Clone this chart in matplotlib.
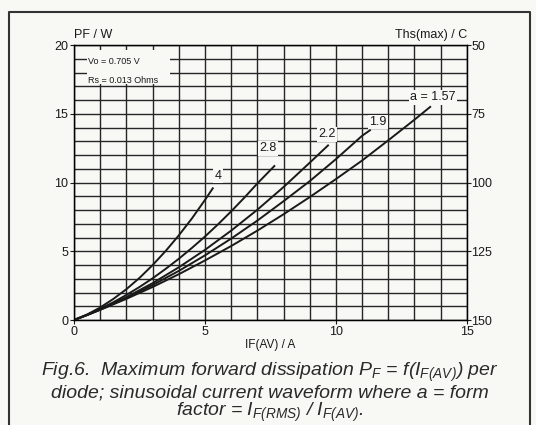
import matplotlib
matplotlib.use("Agg")
import matplotlib.pyplot as plt
from matplotlib.patches import Rectangle

plt.rcParams['font.family'] = ['Liberation Sans', 'DejaVu Sans']
plt.rcParams['mathtext.fontset'] = 'custom'
plt.rcParams['mathtext.rm'] = 'Liberation Sans:italic'
plt.rcParams['mathtext.it'] = 'Liberation Sans:italic'

# values, IF(AV) in A and PF in W
x_a4 = [0, 0.5, 1, 1.5, 2, 2.5, 3, 3.5, 4, 4.5, 5, 5.3]
y_a4 = [0, 0.40, 0.91, 1.53, 2.24, 3.06, 3.99, 5.02, 6.15, 7.38, 8.73, 9.58]
x_a28 = [0, 0.5, 1, 1.5, 2, 2.5, 3, 3.5, 4, 4.5, 5, 5.5, 6, 6.5, 7, 7.65]
y_a28 = [0, 0.38, 0.81, 1.29, 1.82, 2.40, 3.03, 3.72, 4.45, 5.24, 6.07, 6.96, 7.9, 8.89, 9.93, 11.2]
x_a22 = [0, 0.5, 1, 2, 3, 4, 5, 6, 7, 8, 9, 9.7]
y_a22 = [0, 0.37, 0.77, 1.66, 2.68, 3.83, 5.1, 6.5, 8.02, 9.67, 11.44, 12.7]
x_a19 = [0, 0.5, 1, 2, 3, 4, 5, 6, 7, 8, 9, 10, 11, 11.3]
y_a19 = [0, 0.36, 0.75, 1.6, 2.54, 3.57, 4.7, 5.92, 7.23, 8.64, 10.1, 11.7, 13.4, 13.8]
x_a157 = [0, 0.5, 1, 2, 3, 4, 5, 6, 7, 8, 9, 10, 11, 12, 13, 13.6]
y_a157 = [0, 0.36, 0.74, 1.54, 2.4, 3.33, 4.33, 5.38, 6.5, 7.69, 8.94, 10.25, 11.6, 13.07, 14.57, 15.5]

curve_labels = ["4", "2.8", "2.2", "1.9", "a = 1.57"]
label_x = [5.5, 7.4, 9.65, 11.6, 13.7]
label_y = [10.5, 12.5, 13.5, 14.4, 16.2]

ths_ticks = [50, 75, 100, 125, 150]

bg = '#f8f8f5'
ink = '#1a1a1a'
fig = plt.figure(figsize=(5.36, 4.25), dpi=100, facecolor=bg)
ax = fig.add_axes([0.138, 0.247, 0.733, 0.647])
ax.set_facecolor(bg)

for xs, ys in [(x_a4, y_a4), (x_a28, y_a28), (x_a22, y_a22), (x_a19, y_a19), (x_a157, y_a157)]:
    ax.plot(xs, ys, color=ink, lw=1.4, zorder=3, solid_joinstyle='round')

ax.set_xlim(0, 15)
ax.set_ylim(0, 20)
ax.set_xticks(range(0, 16), minor=True)
ax.set_yticks(range(0, 21), minor=True)
ax.set_xticks([0, 5, 10, 15])
ax.set_yticks([0, 5, 10, 15, 20])
ax.grid(True, which='both', color='#262626', lw=1.0)
ax.tick_params(which='minor', length=0)
ax.tick_params(which='major', length=3, labelsize=9, pad=1, colors=ink)
for s in ax.spines.values():
    s.set_linewidth(1.0)

for t, lx, ly in zip(curve_labels, label_x, label_y):
    ax.text(lx, ly, t, ha='center', va='center', fontsize=9, zorder=4, color=ink,
            bbox=dict(facecolor=bg, edgecolor='none', pad=1.0))

# white box holding the model parameters
ax.add_patch(Rectangle((0.5, 17.2), 3.15, 2.45, facecolor=bg, edgecolor='none', zorder=4))
ax.text(0.55, 18.8, "Vo = 0.705 V", fontsize=6.5, va='center', ha='left', zorder=5, color=ink)
ax.text(0.55, 17.45, "Rs = 0.013 Ohms", fontsize=6.5, va='center', ha='left', zorder=5, color=ink)

ax2 = ax.twinx()
ax2.set_ylim(150, 50)
ax2.set_yticks(ths_ticks)
ax2.tick_params(length=3, labelsize=9, pad=0, colors=ink)

ax.text(0, 1.015, "PF / W", transform=ax.transAxes, fontsize=9, ha='left', va='bottom', color=ink)
ax.text(1.0, 1.015, "Ths(max) / C", transform=ax.transAxes, fontsize=9, ha='right', va='bottom', color=ink)
ax.set_xlabel("IF(AV) / A", fontsize=8.5, labelpad=1, color=ink)

cap = [r"Fig.6.  Maximum forward dissipation $P_F$ = f($I_{F(AV)}$) per",
       r"diode; sinusoidal current waveform where a = form",
       r"factor = $I_{F(RMS)}$ / $I_{F(AV)}$."]
for txt, yy in zip(cap, [0.124, 0.076, 0.029]):
    fig.text(0.503, yy, txt, ha='center', va='center', fontsize=14, style='italic', color='#2a2a2a')

fig.add_artist(plt.Line2D([0.017, 0.017, 0.988, 0.988], [0.0, 0.972, 0.972, 0.0],
                          color='#333333', lw=1.5, transform=fig.transFigure))

fig.savefig("out.png", dpi=100, facecolor=bg)
